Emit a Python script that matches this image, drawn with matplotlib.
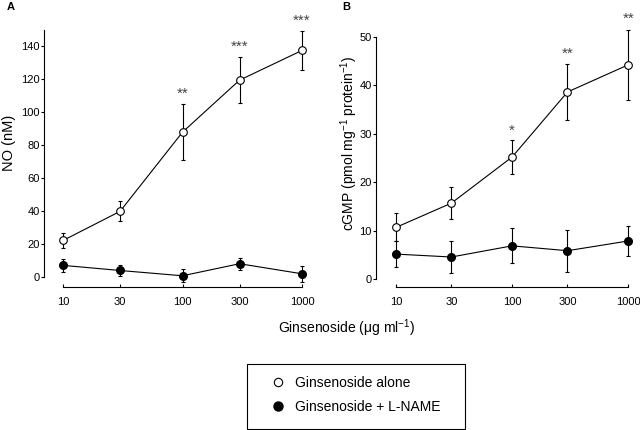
import matplotlib
matplotlib.use("Agg")
import matplotlib.pyplot as plt
from matplotlib.lines import Line2D
from matplotlib.patches import Rectangle

plt.rcParams["font.family"] = ["Liberation Sans", "DejaVu Sans"]
plt.rcParams["mathtext.fontset"] = "custom"
plt.rcParams["mathtext.rm"] = "Liberation Sans"
plt.rcParams["mathtext.it"] = "Liberation Sans:italic"

# ginsenoside dose (ug/ml)
dose = [10, 30, 100, 300, 1000]
dose_labels = ["10", "30", "100", "300", "1000"]

# panel A: NO (nM)
no_alone = [22.4, 40, 88, 119.5, 137.5]
no_alone_err = [4.5, 6, 17, 14, 12]
no_lname = [7.3, 4.2, 1.0, 8.3, 2.2]
no_lname_err = [4, 3.5, 4, 3.7, 5]
no_stars = ["", "", "**", "***", "***"]
no_star_y = [0, 0, 111, 140, 155.5]

# panel B: cGMP (pmol/mg protein)
cgmp_alone = [10.7, 15.7, 25.2, 38.6, 44.2]
cgmp_alone_err = [2.9, 3.3, 3.5, 5.8, 7.2]
cgmp_lname = [5.2, 4.6, 6.9, 5.9, 7.9]
cgmp_lname_err = [2.6, 3.2, 3.6, 4.3, 3.0]
cgmp_stars = ["", "", "*", "**", "**"]
cgmp_star_y = [0, 0, 30.6, 46.4, 53.6]


def panel(ax, alone, alone_err, lname, lname_err, stars, star_y,
          ylim, ytop, yticks, xlim):
    ax.errorbar(dose, lname, yerr=lname_err, fmt="-o", color="black",
                mfc="black", mec="black", ms=5.5, lw=0.8, elinewidth=0.8,
                capsize=1.5, capthick=0.8, clip_on=False, zorder=3)
    ax.errorbar(dose, alone, yerr=alone_err, fmt="-o", color="black",
                mfc="white", mec="black", ms=5.5, lw=0.8, mew=0.8,
                elinewidth=0.8, capsize=1.5, capthick=0.8, clip_on=False,
                zorder=3)
    for x, s, y in zip(dose, stars, star_y):
        if s:
            ax.text(x, y, s, ha="center", va="center", fontsize=11,
                    color="#444444")
    ax.set_xscale("log")
    ax.set_xlim(*xlim)
    ax.set_ylim(*ylim)
    ax.set_xticks(dose)
    ax.set_xticklabels(dose_labels)
    ax.minorticks_off()
    ax.set_yticks(yticks)
    for s in ["top", "right"]:
        ax.spines[s].set_visible(False)
    ax.spines["left"].set_bounds(0, ytop)
    ax.spines["bottom"].set_bounds(10, 1000)
    ax.spines["left"].set_linewidth(0.8)
    ax.spines["bottom"].set_linewidth(0.8)
    ax.tick_params(axis="y", direction="out", length=2, width=0.8, pad=1,
                   labelsize=8)
    ax.tick_params(axis="x", direction="in", length=2.5, width=0.8, pad=7,
                   labelsize=8)


fig = plt.figure(figsize=(6.4, 4.3), dpi=100)

ax_a = fig.add_axes([44 / 640, 1 - 287 / 430, 262 / 640, 277 / 430])
panel(ax_a, no_alone, no_alone_err, no_lname, no_lname_err, no_stars,
      no_star_y, (-5.8, 162), 150, range(0, 141, 20), (6.93, 1080))
ax_a.set_ylabel("NO (nM)", fontsize=10.5)
ax_a.yaxis.set_label_coords(-0.106, 0.52)

ax_b = fig.add_axes([376 / 640, 1 - 287 / 430, 257 / 640, 277 / 430])
panel(ax_b, cgmp_alone, cgmp_alone_err, cgmp_lname, cgmp_lname_err,
      cgmp_stars, cgmp_star_y, (-1.58, 55.5), 50, range(0, 51, 10),
      (6.73, 1100))
ax_b.set_ylabel("cGMP (pmol mg$^{-1}$ protein$^{-1}$)", fontsize=10)
ax_b.yaxis.set_label_coords(-0.062, 0.52)

fig.text(7 / 640, 1 - 7 / 430, "A", fontsize=8, fontweight="bold",
         ha="left", va="center")
fig.text(342 / 640, 1 - 7 / 430, "B", fontsize=8, fontweight="bold",
         ha="left", va="center")

fig.text(347 / 640, 1 - 328 / 430, "Ginsenoside (μg ml$^{-1}$)",
         fontsize=10, ha="center", va="center")

# legend box drawn separately so its padding can match the original
fig.patches.append(Rectangle((247 / 640, 1 - 429 / 430), 218 / 640,
                             65 / 430, transform=fig.transFigure,
                             fill=False, edgecolor="black", linewidth=0.8))
handles = [
    Line2D([], [], ls="none", marker="o", mfc="white", mec="black", ms=6,
           mew=0.8),
    Line2D([], [], ls="none", marker="o", mfc="black", mec="black", ms=6.5),
]
fig.legend(handles, ["Ginsenoside alone", "Ginsenoside + L-NAME"],
           loc="center left", bbox_to_anchor=(271 / 640, 1 - 395 / 430),
           fontsize=10, frameon=False, borderpad=0, handlelength=1,
           handletextpad=0.72, labelspacing=0.75, borderaxespad=0)

fig.savefig("out.png", dpi=100)
